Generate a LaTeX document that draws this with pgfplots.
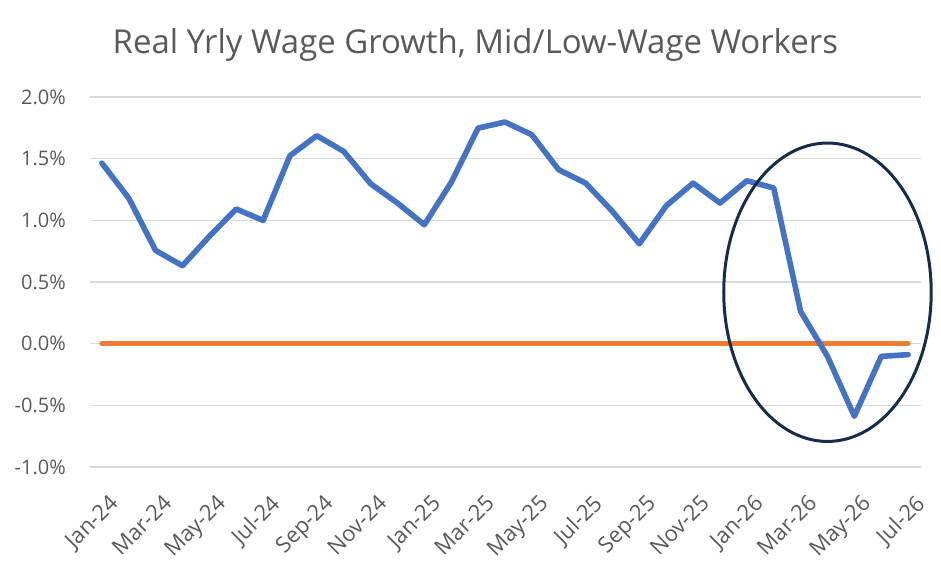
\documentclass[border=0pt]{standalone}
\usepackage{fontspec}
\setmainfont{Open Sans}
\usepackage{pgfplots}
\pgfplotsset{compat=1.18}
\definecolor{serblue}{HTML}{4472C4}
\definecolor{serorange}{HTML}{ED7D31}
\definecolor{gridgray}{HTML}{D9D9D9}
\definecolor{txtgray}{HTML}{595959}
\definecolor{navy}{HTML}{172B4D}
\begin{document}
\begin{tikzpicture}
\begin{axis}[
  at={(0,0)}, anchor=south west,
  scale only axis,
  width=623.25pt, height=277.5pt,
  xmin=-0.44, xmax=30.48,
  ymin=-1, ymax=2,
  ytick={-1,-0.5,0,0.5,1,1.5,2},
  xtick={0,2,...,30},
  xticklabels={Jan-24,Mar-24,May-24,Jul-24,Sep-24,Nov-24,Jan-25,Mar-25,May-25,Jul-25,Sep-25,Nov-25,Jan-26,Mar-26,May-26,Jul-26},
  ymajorgrids,
  grid style={gridgray, line width=1.1pt},
  axis line style={draw=none},
  major tick length=0pt,
  tick style={draw=none},
  /pgf/number format/assume math mode=true,
  yticklabel={\pgfmathprintnumber[fixed,fixed zerofill,precision=1]{\tick}\%},
  yticklabel style={font=\fontsize{15}{18}\selectfont, text=txtgray, anchor=east, inner sep=0pt, xshift=-18pt},
  xticklabel style={font=\fontsize{16.5}{19}\selectfont, text=txtgray, xshift=4.6pt, yshift=-19.5pt, rotate=45, anchor=north east, inner sep=0pt},
  clip=false,
]
\addplot[serorange, line width=3.75pt, line cap=round] coordinates {
(0,0) (30,0)
};
\addplot[serblue, line width=4.2pt, line cap=round, line join=round] coordinates {
(0,1.464) (1,1.181) (2,0.756) (3,0.632) (4,0.870) (5,1.092) (6,0.999) (7,1.524)
(8,1.686) (9,1.559) (10,1.297) (11,1.140) (12,0.964) (13,1.307) (14,1.748) (15,1.797)
(16,1.694) (17,1.410) (18,1.302) (19,1.072) (20,0.810) (21,1.118) (22,1.302) (23,1.140)
(24,1.321) (25,1.262) (26,0.262) (27,-0.103) (28,-0.589) (29,-0.103) (30,-0.089)
};
\draw[navy, line width=2.25pt] (axis cs:27.0,0.417) ellipse [x radius=77.8pt, y radius=111.9pt];
\end{axis}
\node[anchor=base, text=txtgray, font=\fontsize{24.7}{28}\selectfont] at (289pt,310.3pt) {Real Yrly Wage Growth, Mid/Low-Wage Workers};
\pgfresetboundingbox
\path[use as bounding box] (-67.5pt,-72pt) rectangle (638.25pt,350.25pt);
\end{tikzpicture}
\end{document}
